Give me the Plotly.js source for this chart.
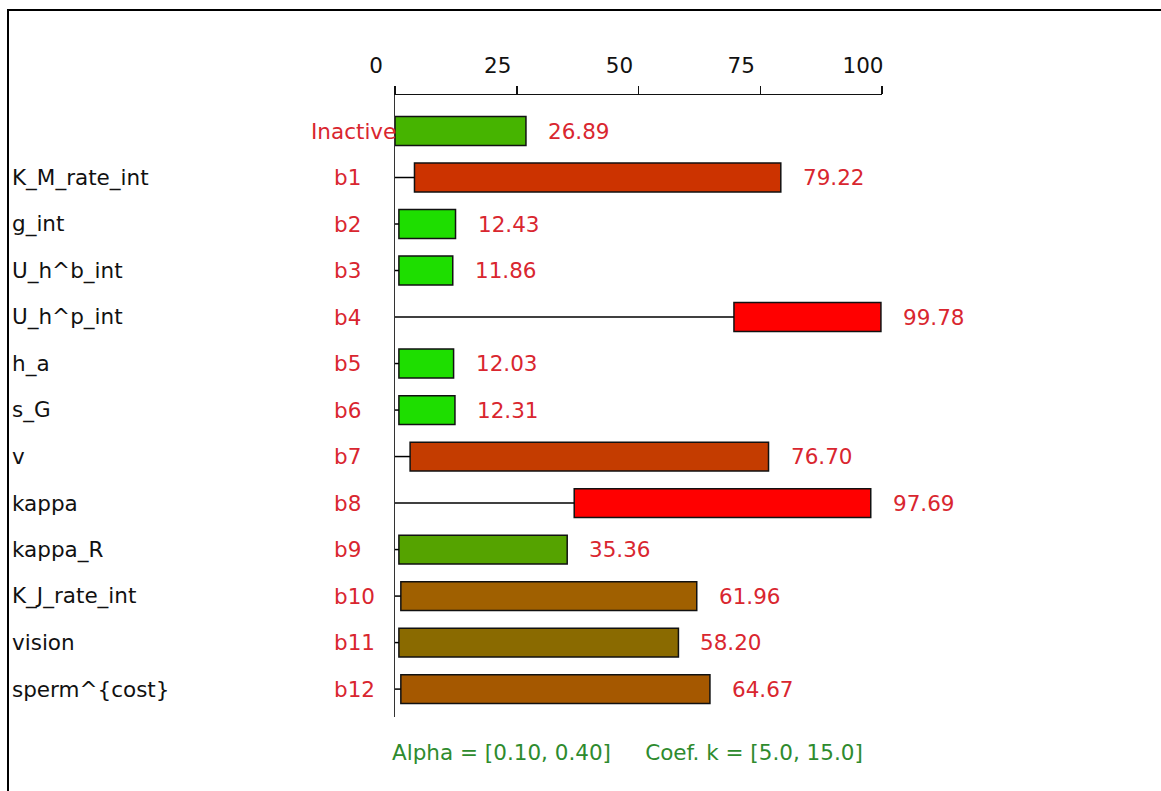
<!DOCTYPE html>
<html>
<head>
<meta charset="utf-8">
<script src="https://cdn.plot.ly/plotly-3.0.1.min.js"></script>
<style>
  body { margin: 0; background: #fff; }
  #wrap { position: relative; width: 1161px; height: 791px; }
  #chart { width: 1161px; height: 791px; }
  #frame { position: absolute; left: 7px; top: 9px; right: -5px; bottom: -5px;
           border-top: 2px solid #000; border-left: 2px solid #000; pointer-events: none; }
</style>
</head>
<body>
<div id="wrap"><div id="chart"></div><div id="frame"></div></div>
<script>
// ---- data ----
const names = ["", "K_M_rate_int", "g_int", "U_h^b_int", "U_h^p_int", "h_a", "s_G", "v", "kappa",
               "kappa_R", "K_J_rate_int", "vision", "sperm^{cost}"];
const codes = ["Inactive", "b1", "b2", "b3", "b4", "b5", "b6", "b7", "b8", "b9", "b10", "b11", "b12"];
const starts = [0, 4.0, 0.8, 0.8, 69.6, 0.8, 0.8, 3.1, 36.8, 0.8, 1.2, 0.8, 1.2];
const ends = [26.89, 79.22, 12.43, 11.86, 99.78, 12.03, 12.31, 76.70, 97.69, 35.36, 61.96, 58.20, 64.67];
const xTicks = [0, 25, 50, 75, 100];
const footer = "Alpha = [0.10, 0.40]&nbsp;&nbsp;&nbsp;&nbsp; Coef. k = [5.0, 15.0]";

// ---- styles ----
const barColors = ["#46b400", "#cc3300", "#1ede00", "#1ede00", "#ff0000", "#1ede00", "#1ede00",
                   "#c43c00", "#ff0000", "#55a300", "#a06000", "#8a6a00", "#a55800"];
const FONT = "DejaVu Sans, Tahoma, sans-serif";
const RED = "#d9262f";
const FS = 21.5;

const idx = codes.map((_, i) => i);

// stub lines from axis to bar start
const lx = [], ly = [];
idx.forEach(i => { lx.push(0, starts[i], null); ly.push(i, i, null); });

const traces = [
  { type: "scatter", mode: "lines", x: lx, y: ly, line: { color: "#000", width: 1.5 },
    hoverinfo: "skip", showlegend: false },
  { type: "bar", orientation: "h", y: idx, base: starts,
    x: idx.map(i => ends[i] - starts[i]), width: 0.62,
    marker: { color: barColors, line: { color: "#111", width: 1.5 } },
    showlegend: false }
];

const annotations = [];
idx.forEach(i => {
  annotations.push({ xref: "x", yref: "y", x: ends[i], y: i, text: ends[i].toFixed(2),
    xanchor: "left", xshift: 20, showarrow: false, font: { family: FONT, size: FS, color: RED } });
  annotations.push({ xref: "paper", yref: "y", x: i === 0 ? -0.177 : -0.13, y: i, text: codes[i],
    xanchor: "left", showarrow: false, font: { family: FONT, size: FS, color: RED } });
  if (names[i]) annotations.push({ xref: "paper", yref: "y", x: -0.79, y: i, text: names[i],
    xanchor: "left", showarrow: false, font: { family: FONT, size: FS, color: "#111" } });
});
annotations.push({ xref: "paper", yref: "paper", x: -0.01, y: -0.033, text: footer,
  xanchor: "left", yanchor: "top", showarrow: false, font: { family: FONT, size: FS, color: "#2e8b2e" } });

const layout = {
  width: 1161, height: 791,
  margin: { l: 395, r: 279, t: 95, b: 74 },
  paper_bgcolor: "#fff", plot_bgcolor: "#fff",
  font: { family: FONT, size: FS, color: "#111" },
  bargap: 0,
  xaxis: { side: "top", range: [0, 100], tickvals: xTicks, ticks: "outside", ticklen: 8,
           tickcolor: "#111", tickwidth: 1.5, showline: true, linecolor: "#111", linewidth: 1.5,
           showgrid: false, zeroline: false, ticklabelshift: -19, ticklabelstandoff: 4,
           tickfont: { family: FONT, size: FS, color: "#111" } },
  yaxis: { range: [12.6, -0.774], showticklabels: false, ticks: "", showgrid: false, zeroline: false,
           showline: true, linecolor: "#333", linewidth: 1.5 },
  annotations: annotations
};

Plotly.newPlot("chart", traces, layout, { displayModeBar: false, staticPlot: true });
</script>
</body>
</html>
